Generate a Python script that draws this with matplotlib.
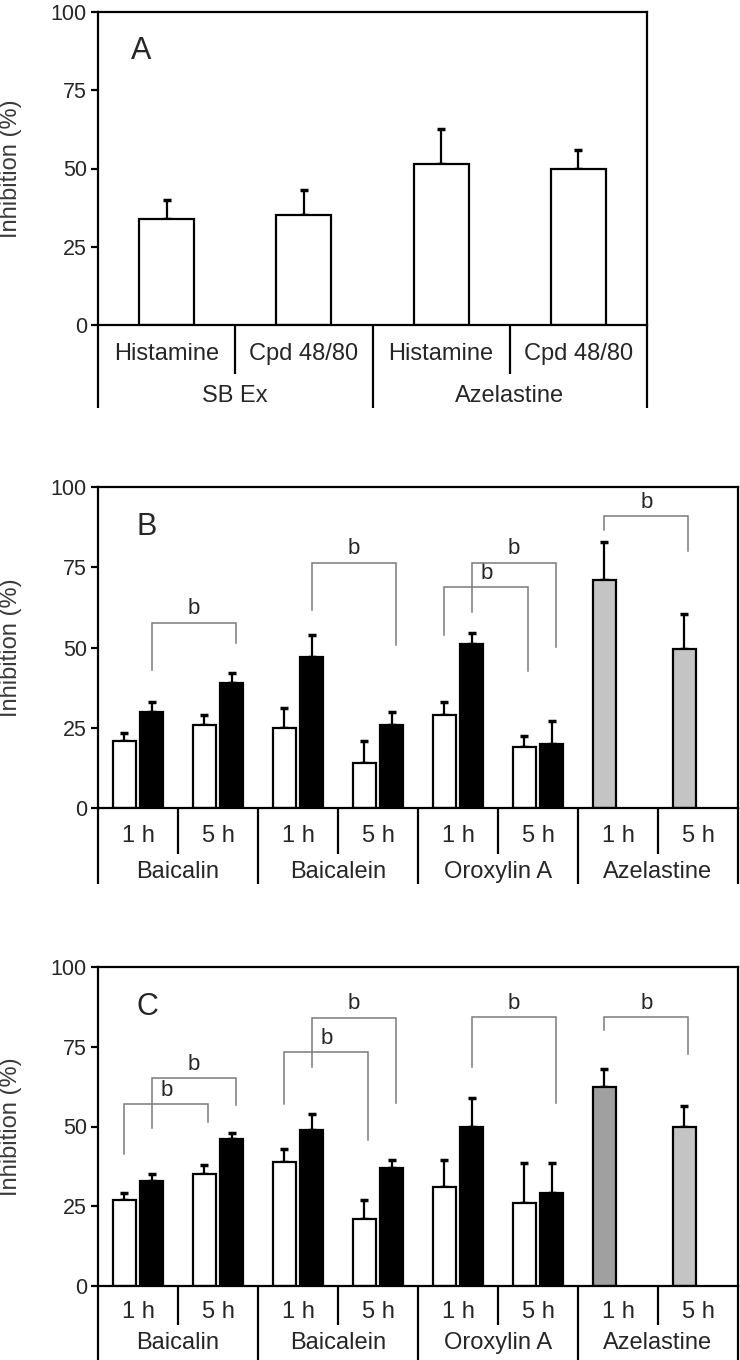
import matplotlib
matplotlib.use("Agg")
import matplotlib.pyplot as plt
import matplotlib.transforms as mtransforms
import numpy as np

plt.rcParams['font.family'] = ['Liberation Sans', 'DejaVu Sans']

# ---------------- data ----------------
# Panel A
a_sub = ["Histamine", "Cpd 48/80", "Histamine", "Cpd 48/80"]
a_groups = ["SB Ex", "Azelastine"]
a_vals = [34, 35, 51.5, 50]
a_errs = [6, 8, 11, 6]

# Panels B and C
compounds = ["Baicalin", "Baicalein", "Oroxylin A", "Azelastine"]
times = ["1 h", "5 h"]

# order per compound: 1h, 5h ; white (first) and black (second) series
b_white = [21, 26, 25, 14, 29, 19]
b_white_err = [2.5, 3, 6, 7, 4, 3.5]
b_black = [30, 39, 47, 26, 51, 20]
b_black_err = [3, 3, 7, 4, 3.5, 7]
b_aze = [71, 49.5]
b_aze_err = [12, 11]

c_white = [27, 35, 39, 21, 31, 26]
c_white_err = [2, 3, 4, 6, 8.5, 12.5]
c_black = [33, 46, 49, 37, 50, 29]
c_black_err = [2, 2, 5, 2.5, 9, 9.5]
c_aze = [62.5, 50]
c_aze_err = [5.5, 6.5]

# brackets: (slot_left, series, slot_right, series, top, left_leg_end, right_leg_end)
b_brackets = [
    (0, 'k', 1, 'k', 57.7, 43.0, 51.3),
    (2, 'k', 3, 'k', 76.4, 61.7, 50.8),
    (4, 'w', 5, 'w', 68.7, 53.9, 42.8),
    (4, 'k', 5, 'k', 76.4, 61.1, 50.3),
    (6, 'w', 7, 'w', 91.0, 86.5, 80.1),
]
c_brackets = [
    (0, 'w', 1, 'w', 56.9, 41.5, 51.5),
    (0, 'k', 1, 'k', 65.2, 49.4, 56.7),
    (2, 'w', 3, 'w', 73.2, 56.9, 45.7),
    (2, 'k', 3, 'k', 84.1, 68.7, 57.4),
    (4, 'k', 5, 'k', 84.3, 68.7, 57.4),
    (6, 'w', 7, 'w', 84.3, 80.2, 72.7),
]

yticks = [0, 25, 50, 75, 100]

# ---------------- style ----------------
LW = 1.6
BR_COLOR = '#7a7a7a'
TICK_FS = 15.5
LAB_FS = 17
ROW_FS = 17
TXT_COLOR = '#262626'
FIG_W, FIG_H = 740, 1360

fig = plt.figure(figsize=(FIG_W / 100, FIG_H / 100), dpi=100)

def style_axes(ax, letter, width_px):
    ax.set_ylim(0, 100)
    ax.set_yticks(yticks)
    ax.set_yticklabels([str(t) for t in yticks], fontsize=TICK_FS, color=TXT_COLOR)
    ax.tick_params(axis='y', direction='out', length=5, width=LW, pad=3)
    ax.tick_params(axis='x', bottom=False, labelbottom=False)
    for s in ax.spines.values():
        s.set_linewidth(LW)
    ax.set_ylabel("Inhibition (%)", fontsize=LAB_FS, color='#3a3a3a')
    ax.yaxis.label.set_va('center')
    ax.yaxis.set_label_coords((11 - 98) / width_px, 0.5)
    ax.text(0.06, 0.875, letter, transform=ax.transAxes, fontsize=22,
            ha='left', va='center', color=TXT_COLOR)

def table(ax, xmax, sub_labels, group_labels, nsub, short_y, long_y, row1_y, row2_y):
    tr = mtransforms.blended_transform_factory(ax.transData, ax.transAxes)
    nslots = len(sub_labels)
    for x in (0, xmax):
        ax.plot([x, x], [0, long_y], transform=tr, color='black', lw=LW,
                clip_on=False, solid_capstyle='butt')
    for i in range(1, nslots):
        bottom = long_y if i % nsub == 0 else short_y
        ax.plot([i, i], [0, bottom], transform=tr, color='black', lw=LW,
                clip_on=False, solid_capstyle='butt')
    for i, lab in enumerate(sub_labels):
        ax.text(i + 0.5, row1_y, lab, transform=tr, ha='center', va='center',
                fontsize=ROW_FS, color=TXT_COLOR)
    for g, lab in enumerate(group_labels):
        ax.text(g * nsub + nsub / 2, row2_y, lab, transform=tr, ha='center',
                va='center', fontsize=ROW_FS, color=TXT_COLOR)

def rect_px(left, right, top, bottom):
    return [left / FIG_W, 1 - bottom / FIG_H, (right - left) / FIG_W, (bottom - top) / FIG_H]

# ---------------- Panel A ----------------
axA = fig.add_axes(rect_px(98, 647, 12, 325))
xa = np.arange(len(a_vals)) + 0.5
axA.bar(xa, a_vals, width=0.4, color='white', edgecolor='black', linewidth=LW, zorder=2)
axA.errorbar(xa, a_vals, yerr=[np.zeros(len(a_errs)), a_errs], fmt='none',
             ecolor='black', elinewidth=LW, capsize=3, capthick=2.5, zorder=1)
axA.set_xlim(0, len(a_vals))
style_axes(axA, "A", 549)
table(axA, len(a_vals), a_sub, a_groups, 2, -0.157, -0.265, -0.093, -0.227)

# ---------------- Panels B, C ----------------
OFF = 0.17
W = 0.29

def bar_x(slot, series):
    return slot + 0.5 + (-OFF if series == 'w' else OFF)

def panel(rect, letter, white, werr, black, berr, aze, aerr, aze_colors, brackets,
          short_y, long_y, row1_y, row2_y):
    ax = fig.add_axes(rect)
    slots = np.arange(len(white))
    xw = slots + 0.5 - OFF
    xk = slots + 0.5 + OFF
    ax.bar(xw, white, width=W, color='white', edgecolor='black', linewidth=LW, zorder=2)
    ax.errorbar(xw, white, yerr=[np.zeros(len(werr)), werr], fmt='none',
                ecolor='black', elinewidth=LW, capsize=3, capthick=2.5, zorder=1)
    ax.bar(xk, black, width=W, color='black', edgecolor='black', linewidth=LW, zorder=2)
    ax.errorbar(xk, black, yerr=[np.zeros(len(berr)), berr], fmt='none',
                ecolor='black', elinewidth=LW, capsize=3, capthick=2.5, zorder=1)
    sa = np.arange(len(aze)) + len(white)
    xa_ = sa + 0.5 - OFF
    ax.bar(xa_, aze, width=W, color=aze_colors, edgecolor='black', linewidth=LW, zorder=2)
    ax.errorbar(xa_, aze, yerr=[np.zeros(len(aerr)), aerr], fmt='none',
                ecolor='black', elinewidth=LW, capsize=3, capthick=2.5, zorder=1)
    nslots = len(white) + len(aze)
    ax.set_xlim(0, nslots)
    for (s1, t1, s2, t2, top, l1, l2) in brackets:
        x1 = bar_x(s1, t1)
        x2 = bar_x(s2, t2) + 0.05
        ax.plot([x1, x1, x2, x2], [l1, top, top, l2], color=BR_COLOR, lw=1.1,
                zorder=3, solid_joinstyle='miter')
        ax.text((x1 + x2) / 2, top + 2.6, "b", ha='center', va='baseline',
                fontsize=16, color=TXT_COLOR)
    style_axes(ax, letter, 640)
    sub = times * len(compounds)
    table(ax, nslots, sub, compounds, 2, short_y, long_y, row1_y, row2_y)
    return ax

panel(rect_px(98, 738, 487, 808), "B",
      b_white, b_white_err, b_black, b_black_err, b_aze, b_aze_err,
      ['#c4c4c4', '#c4c4c4'], b_brackets, -0.143, -0.237, -0.087, -0.199)

panel(rect_px(98, 738, 967, 1286), "C",
      c_white, c_white_err, c_black, c_black_err, c_aze, c_aze_err,
      ['#a0a0a0', '#c4c4c4'], c_brackets, -0.122, -0.24, -0.082, -0.178)

fig.savefig("out.png", dpi=100)
